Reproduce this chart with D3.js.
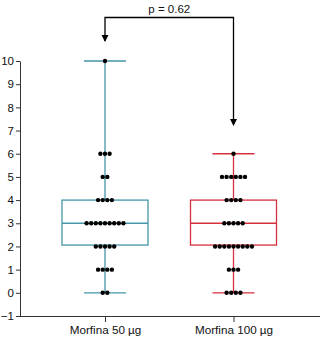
<!DOCTYPE html>
<html>
<head>
<meta charset="utf-8">
<script src="https://cdn.jsdelivr.net/npm/d3@7"></script>
<style>
  body { margin: 0; background: #fff; }
  svg { font-family: "Liberation Sans", Arial, sans-serif; }
</style>
</head>
<body>
<svg id="chart" width="320" height="340"></svg>
<script>
// groups and raw values
const groups = ["Morfina 50 µg", "Morfina 100 µg"];
const colors = ["#4596a9", "#d5303e"];
const values50 = [0,0, 1,1,1,1, 2,2,2,2,2, 3,3,3,3,3,3,3,3,3, 4,4,4,4, 5,5, 6,6,6, 10];
const values100 = [0,0,0,0, 1,1,1, 2,2,2,2,2,2,2,2,2, 3,3,3,3,3, 4,4,4,4, 5,5,5,5,5,5, 6];
// box stats as drawn
const q1 = [2.06, 2.06];
const medians = [3, 3];
const q3 = [4, 4];
const yTicks = [-1, 0, 1, 2, 3, 4, 5, 6, 7, 8, 9, 10];
const pLabel = "p = 0.62";

const svg = d3.select("#chart");
const marginLeft = 20, marginRight = 0, marginTop = 61, marginBottom = 24;
const width = 320, height = 340;

const x = d3.scalePoint()
    .domain(groups)
    .range([105, 233.5]);
const y = d3.scaleLinear()
    .domain([-1, 10])
    .range([height - marginBottom, marginTop]);

const boxW = 86, capW = 42, dotR = 2.2, dotStep = 4.6;
const data = [values50, values100];

// y axis
svg.append("g")
    .attr("transform", `translate(${marginLeft},0)`)
    .call(d3.axisLeft(y).tickValues(yTicks).tickSize(4).tickSizeOuter(0))
    .call(g => g.selectAll("text").attr("font-size", 11.5).attr("fill", "#111").attr("dx", 1))
    .call(g => g.selectAll("line, path").attr("stroke", "#333"));

// x axis
svg.append("g")
    .attr("transform", `translate(0,${y(-1)})`)
    .call(d3.axisBottom(x).tickSize(6).tickSizeOuter(0).tickPadding(4))
    .call(g => g.select(".domain").attr("d", `M${marginLeft},0.5H${width}`))
    .call(g => g.selectAll("text").attr("font-size", 11.7).attr("fill", "#111"))
    .call(g => g.selectAll("line, path").attr("stroke", "#333"));

// boxes
groups.forEach((name, i) => {
  const cx = x(name);
  const vals = data[i];
  const g = svg.append("g").attr("stroke", colors[i]).attr("stroke-width", 1.3).attr("fill", "none");
  const lo = d3.min(vals), hi = d3.max(vals);
  g.append("line").attr("x1", cx).attr("x2", cx).attr("y1", y(lo)).attr("y2", y(q1[i]));
  g.append("line").attr("x1", cx).attr("x2", cx).attr("y1", y(q3[i])).attr("y2", y(hi));
  g.append("line").attr("x1", cx - capW / 2).attr("x2", cx + capW / 2).attr("y1", y(lo)).attr("y2", y(lo));
  g.append("line").attr("x1", cx - capW / 2).attr("x2", cx + capW / 2).attr("y1", y(hi)).attr("y2", y(hi));
  g.append("rect")
      .attr("x", cx - boxW / 2).attr("width", boxW)
      .attr("y", y(q3[i])).attr("height", y(q1[i]) - y(q3[i]));
  g.append("line").attr("x1", cx - boxW / 2).attr("x2", cx + boxW / 2)
      .attr("y1", y(medians[i])).attr("y2", y(medians[i]));

  // dots, spread horizontally per value
  const counts = d3.rollup(vals, v => v.length, d => d);
  const pts = [];
  counts.forEach((n, v) => {
    for (let k = 0; k < n; k++) pts.push({ v, off: (k - (n - 1) / 2) * dotStep });
  });
  svg.append("g").selectAll("circle")
      .data(pts)
      .join("circle")
      .attr("cx", d => cx + d.off)
      .attr("cy", d => y(d.v))
      .attr("r", dotR)
      .attr("fill", "#000");
});

// significance bracket
const bx1 = x(groups[0]), bx2 = x(groups[1]), by = 17.5;
svg.append("path")
    .attr("d", `M${bx1},41V${by}H${bx2}V124`)
    .attr("fill", "none").attr("stroke", "#000").attr("stroke-width", 1.3);
[[bx1, 42], [bx2, 126]].forEach(([ax, ay]) => {
  svg.append("path")
      .attr("d", `M${ax - 3.5},${ay - 7}L${ax + 3.5},${ay - 7}L${ax},${ay}Z`)
      .attr("fill", "#000");
});
svg.append("text")
    .attr("x", (bx1 + bx2) / 2).attr("y", 13)
    .attr("text-anchor", "middle")
    .attr("font-size", 11.5)
    .attr("fill", "#111")
    .text(pLabel);
</script>
</body>
</html>
